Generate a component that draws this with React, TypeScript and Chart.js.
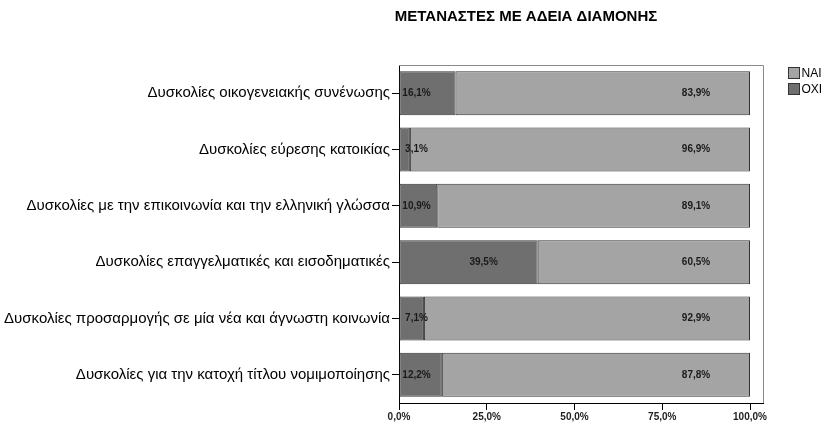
import React, { useEffect, useRef } from "react";
import { Chart, registerables } from "chart.js";

Chart.register(...registerables);

const title = "ΜΕΤΑΝΑΣΤΕΣ ΜΕ ΑΔΕΙΑ ΔΙΑΜΟΝΗΣ";
const categories = [
  "Δυσκολίες οικογενειακής συνένωσης",
  "Δυσκολίες εύρεσης κατοικίας",
  "Δυσκολίες με την επικοινωνία και την ελληνική γλώσσα",
  "Δυσκολίες επαγγελματικές και εισοδηματικές",
  "Δυσκολίες προσαρμογής σε μία νέα και άγνωστη κοινωνία",
  "Δυσκολίες για την κατοχή τίτλου νομιμοποίησης",
];
const noValues = [16.1, 3.1, 10.9, 39.5, 7.1, 12.2];
const yesValues = [83.9, 96.9, 89.1, 60.5, 92.9, 87.8];
const xTickValues = [0, 25, 50, 75, 100];
const seriesNames = ["ΟΧΙ", "ΝΑΙ"];

const FONT = "'Liberation Sans', Arial, sans-serif";
const fmt = (v: number) => v.toFixed(1).replace(".", ",") + "%";

const decorPlugin = {
  id: "decor",
  afterDatasetsDraw(chart: any) {
    const { ctx, chartArea } = chart;
    ctx.save();
    // frame top & right
    ctx.strokeStyle = "#8a8a8a";
    ctx.lineWidth = 1;
    ctx.beginPath();
    ctx.moveTo(chartArea.left, chartArea.top + 0.5);
    ctx.lineTo(chartArea.right + 0.5, chartArea.top + 0.5);
    ctx.lineTo(chartArea.right + 0.5, chartArea.bottom);
    ctx.stroke();

    // data labels
    ctx.font = `bold 10px ${FONT}`;
    ctx.fillStyle = "#1a1a1a";
    ctx.textAlign = "center";
    ctx.textBaseline = "middle";
    chart.data.datasets.forEach((ds: any, di: number) => {
      const meta = chart.getDatasetMeta(di);
      meta.data.forEach((bar: any, i: number) => {
        const start = Math.min(bar.base, bar.x);
        const end = Math.max(bar.base, bar.x);
        const cx = Math.max(start + 17, end - 54);
        ctx.fillText(fmt(ds.data[i]), cx, bar.y);
      });
    });

    // title
    ctx.font = `bold 15px ${FONT}`;
    ctx.fillStyle = "#000";
    ctx.textAlign = "center";
    ctx.textBaseline = "middle";
    ctx.fillText(title, 526, 17);

    // legend (reversed order)
    const items = chart.data.datasets.map((d: any) => d).reverse();
    ctx.font = `12px ${FONT}`;
    ctx.textAlign = "left";
    items.forEach((d: any, i: number) => {
      const bx = chartArea.right + 25.5;
      const by = chartArea.top + 2.5 + i * 16;
      ctx.fillStyle = d.backgroundColor;
      ctx.fillRect(bx, by, 11, 11);
      ctx.strokeStyle = "#333";
      ctx.strokeRect(bx, by, 11, 11);
      ctx.fillStyle = "#000";
      ctx.fillText(d.label, bx + 13, by + 6.5);
    });
    ctx.restore();
  },
};

export default function App() {
  const ref = useRef<HTMLCanvasElement>(null);
  useEffect(() => {
    if (!ref.current) return;
    const chart = new Chart(ref.current, {
      type: "bar",
      data: {
        labels: categories,
        datasets: [
          {
            label: seriesNames[0],
            data: noValues,
            backgroundColor: "#6f6f6f",
            borderColor: "#333333",
            borderWidth: 1,
            borderSkipped: false,
            barPercentage: 0.78,
            categoryPercentage: 1,
          },
          {
            label: seriesNames[1],
            data: yesValues,
            backgroundColor: "#a4a4a4",
            borderColor: "#333333",
            borderWidth: 1,
            borderSkipped: false,
            barPercentage: 0.78,
            categoryPercentage: 1,
          },
        ],
      },
      options: {
        indexAxis: "y",
        responsive: false,
        animation: false,
        devicePixelRatio: 1,
        layout: { padding: { top: 65, right: 65, bottom: 0, left: 0 } },
        plugins: { legend: { display: false }, title: { display: false }, tooltip: { enabled: false } },
        scales: {
          x: {
            stacked: true,
            min: 0,
            max: 103.7,
            afterBuildTicks: (s: any) => {
              s.ticks = xTickValues.map((v) => ({ value: v }));
            },
            ticks: {
              autoSkip: false,
              maxRotation: 0,
              padding: 1,
              color: "#222",
              font: { family: FONT, size: 10, weight: "bold" },
              callback: (v: any) => fmt(Number(v)),
            },
            grid: { drawOnChartArea: false, drawTicks: true, tickLength: 7, color: "#000" },
            border: { color: "#000", width: 1 },
          },
          y: {
            stacked: true,
            afterFit: (s: any) => {
              s.width = 399;
            },
            ticks: {
              autoSkip: false,
              padding: 2,
              color: "#000",
              font: { family: FONT, size: 15 },
            },
            grid: { offset: false, drawOnChartArea: false, drawTicks: true, tickLength: 7, color: "#000" },
            border: { color: "#000", width: 1 },
          },
        },
      },
      plugins: [decorPlugin],
    } as any);
    return () => chart.destroy();
  }, []);
  return (
    <div style={{ position: "fixed", left: 0, top: 0, width: 828, height: 424, background: "#fff" }}>
      <canvas ref={ref} width={828} height={424} />
    </div>
  );
}
